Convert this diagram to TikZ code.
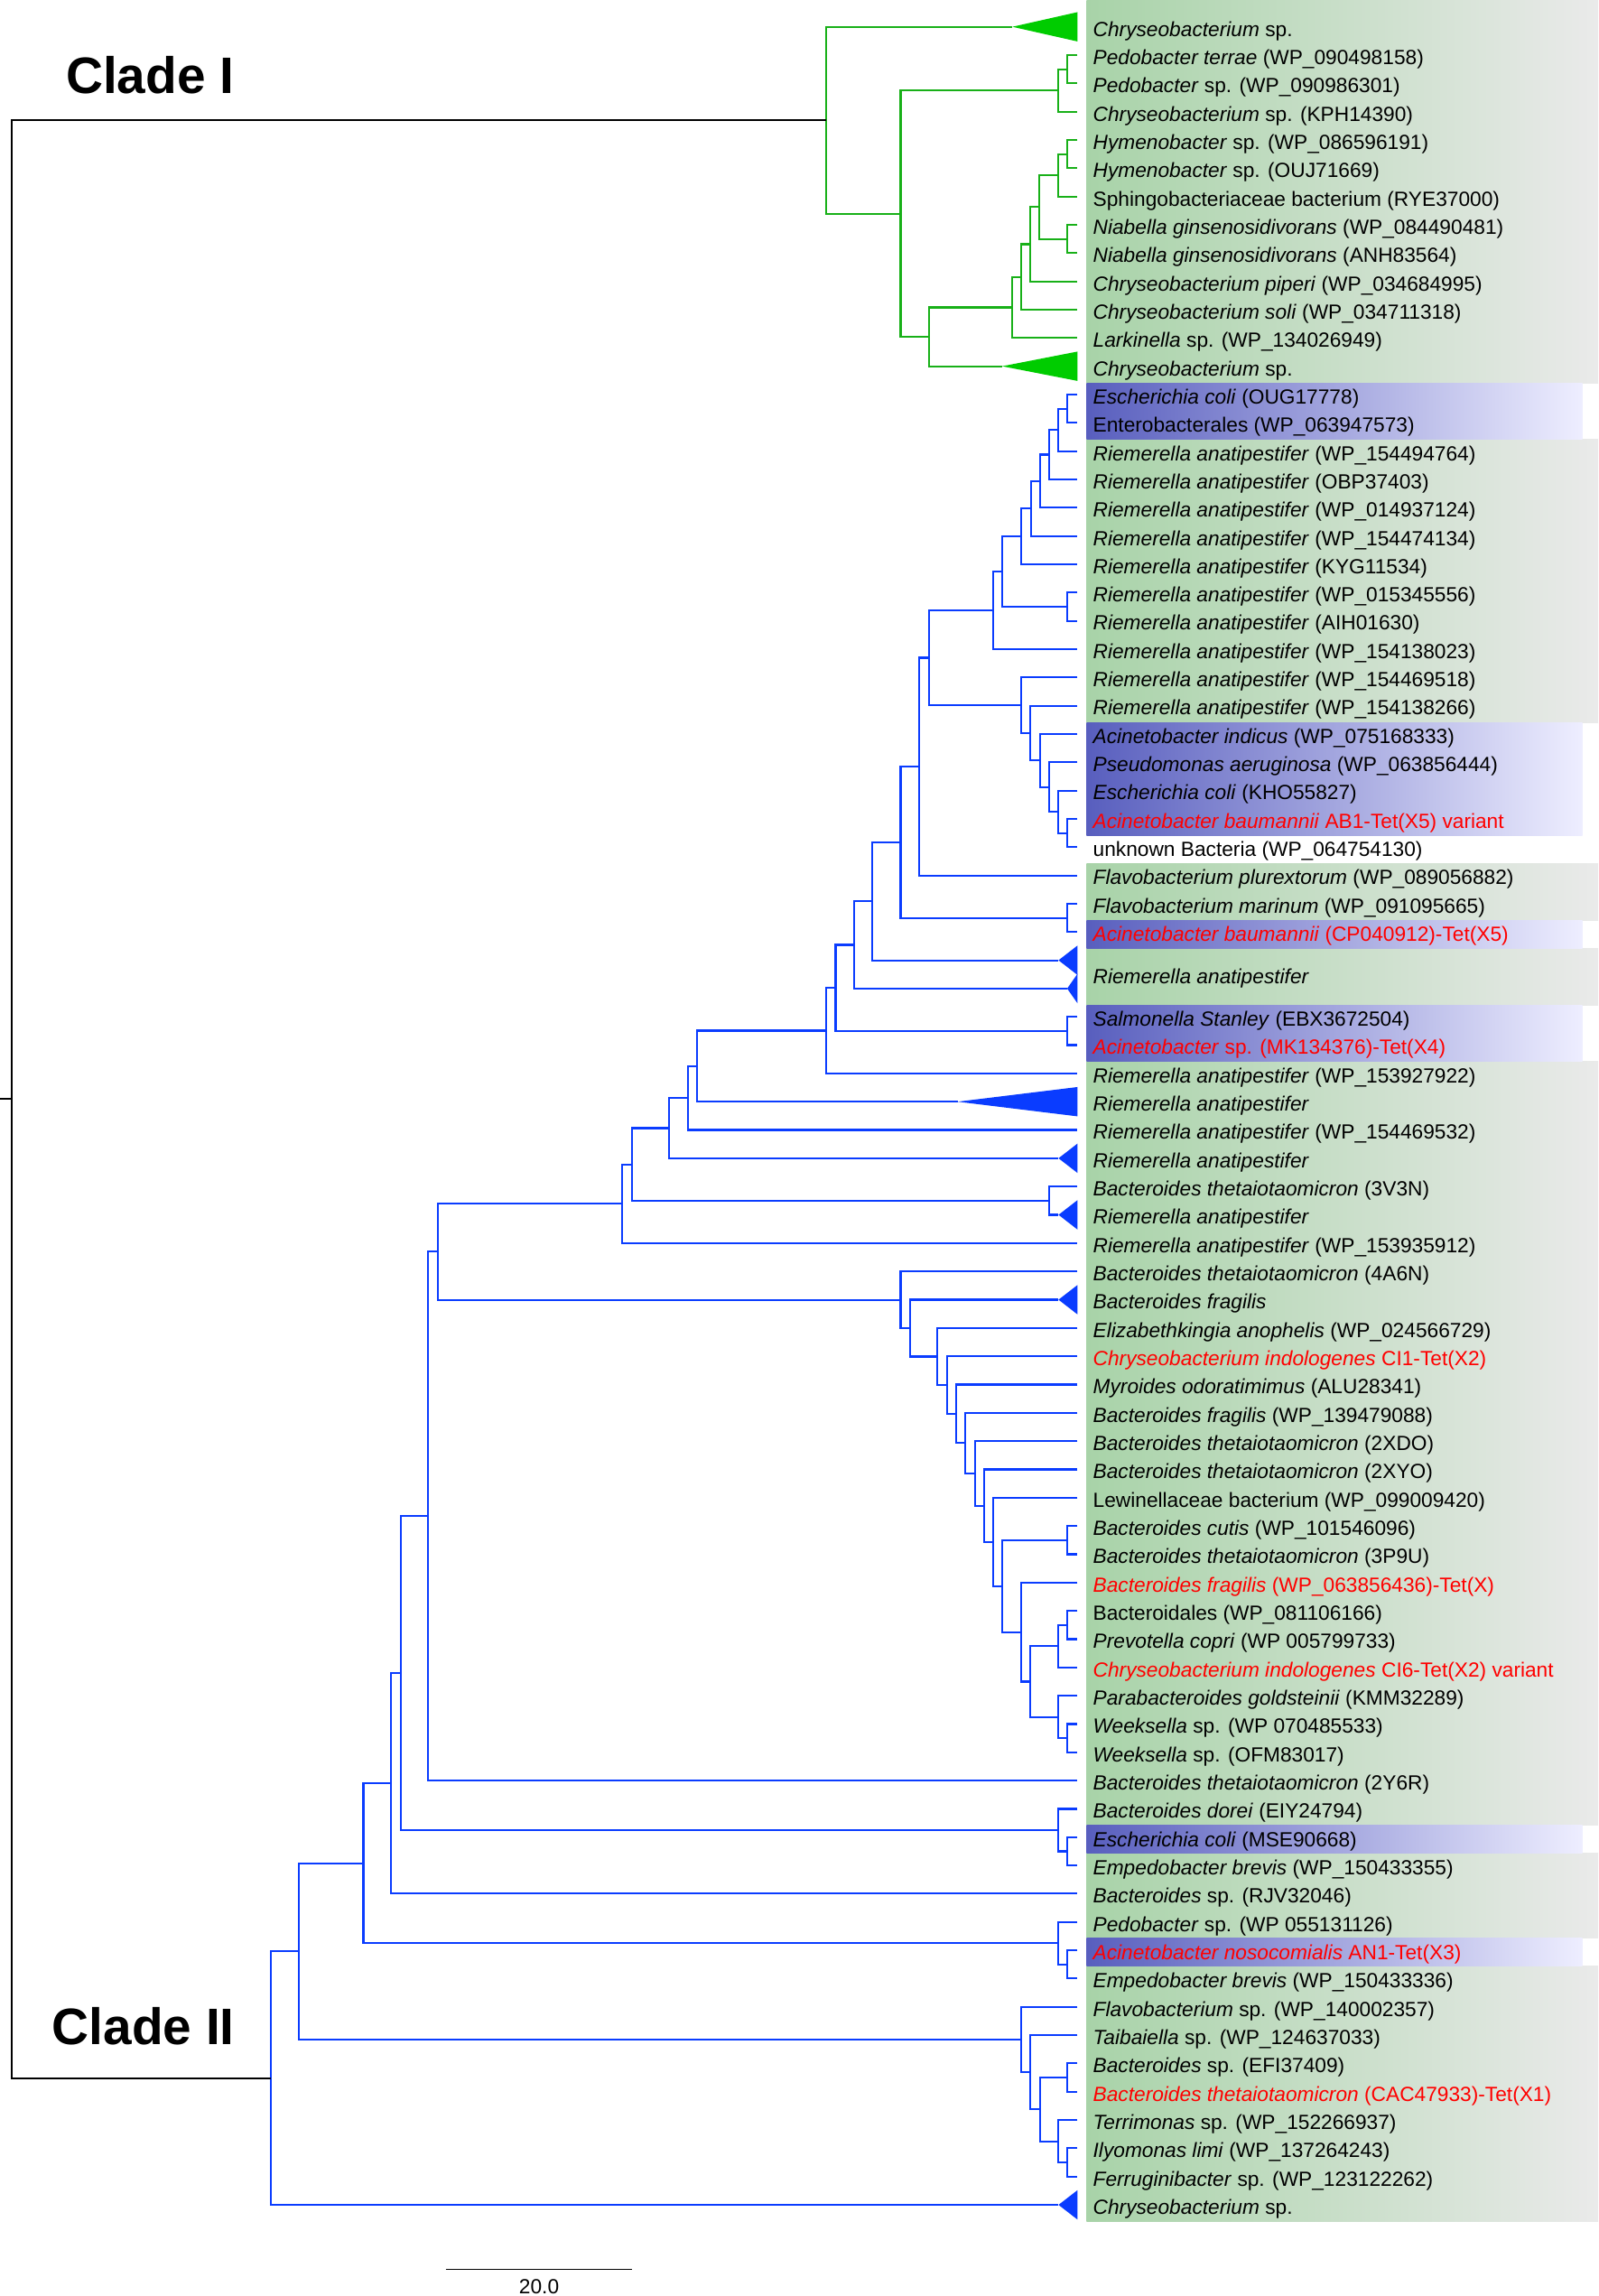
\documentclass[tikz,border=0pt]{standalone}
\usepackage{fontspec}
\setmainfont{Liberation Sans}
\usetikzlibrary{calc}

\definecolor{cladegreen}{RGB}{24,176,24}
\definecolor{trigreen}{RGB}{0,204,0}
\definecolor{cladeblue}{RGB}{10,60,255}
\definecolor{bandgreen}{RGB}{168,211,168}
\definecolor{bandgray}{RGB}{234,234,234}
\definecolor{bandblue}{RGB}{88,94,190}
\definecolor{bandpale}{RGB}{238,238,255}
\definecolor{tetred}{RGB}{255,0,0}

\tikzset{
  branch/.style={draw=black, line width=1.2pt},
  leaf/.style={anchor=base west, inner sep=0pt, font=\fontsize{14}{16}\selectfont},
  cladename/.style={anchor=base west, inner sep=0pt, font=\fontsize{35}{40}\selectfont\bfseries},
  greenband/.style={left color=bandgreen, right color=bandgray},
  blueband/.style={left color=bandblue, right color=bandpale},
}

% #2 = name, #3 = x of the split, #4 #5 = the two children
\newcommand{\clade}[5][branch]{%
  \path let \p1=($(#4)!0.5!(#5)$) in coordinate (#2) at (#3pt,\y1);
  \draw[#1] (#4) -| (#2) |- (#5);
}

\begin{document}
\begin{tikzpicture}[x=1pt, y=-1pt]
  \useasboundingbox (0,0) rectangle (1091,1567.4);

  % label bands
  \foreach \ya/\yb in {0/261.4, 300.0/493.1, 589.6/628.2, 647.5/686.2, 724.8/1245.9, 1265.2/1323.1, 1342.4/1516.8}
    \shade[greenband] (741.7,\ya) rectangle (1091,\yb);
  \foreach \ya/\yb in {261.4/300.0, 493.1/570.3, 628.2/647.5, 686.2/724.8, 1245.9/1265.2, 1323.1/1342.4}
    \shade[blueband] (741.7,\ya) rectangle (1080.3,\yb);

  % leaf tips
  \foreach \s in {1,...,78}
    \coordinate (r\s) at (735.5, {18.3+19.31*(\s-1)});

  % collapsed clades
  \foreach \s/\tx in {1/691.1, 13/684.1} {
    \coordinate (t\s) at (\tx, {18.3+19.31*(\s-1)});
    \fill[trigreen] (t\s) -- ($(r\s)+(0,-10)$) -- ($(r\s)+(0,10)$) -- cycle;
  }
  \foreach \s/\tx in {34/722.6, 35/728.5, 39/653.7, 41/722.6, 43/722.6, 46/722.6, 78/722.6} {
    \coordinate (t\s) at (\tx, {18.3+19.31*(\s-1)});
    \fill[cladeblue] (t\s) -- ($(r\s)+(0,-10)$) -- ($(r\s)+(0,10)$) -- cycle;
  }

  % Clade I
  \begin{scope}[branch/.style={draw=cladegreen, line width=1.3pt}]
    \clade{pa}{728.5}{r2}{r3}
    \clade{pb}{722.6}{pa}{r4}
    \clade{hy}{728.5}{r5}{r6}
    \clade{hb}{722.6}{hy}{r7}
    \clade{ni}{728.5}{r8}{r9}
    \clade{hc}{709.6}{hb}{ni}
    \clade{hd}{703.3}{hc}{r10}
    \clade{he}{697.0}{hd}{r11}
    \clade{hf}{691.1}{he}{r12}
    \clade{hg}{634.1}{hf}{t13}
    \clade{ia}{614.8}{pb}{hg}
    \clade{cI}{564.1}{t1}{ia}
  \end{scope}

  % Clade II
  \begin{scope}[branch/.style={draw=cladeblue, line width=1.3pt}]
    \clade{ea}{728.5}{r14}{r15}
    \clade{eb}{722.6}{ea}{r16}
    \clade{ec}{716.3}{eb}{r17}
    \clade{ed}{710.0}{ec}{r18}
    \clade{ee}{703.7}{ed}{r19}
    \clade{ef}{697.0}{ee}{r20}
    \clade{eg}{728.5}{r21}{r22}
    \clade{eh}{684.4}{ef}{eg}
    \clade{ei}{678.1}{eh}{r23}
    \clade{ak}{728.5}{r29}{r30}
    \clade{aj}{722.6}{r28}{ak}
    \clade{ai}{716.3}{r27}{aj}
    \clade{ah}{710.0}{r26}{ai}
    \clade{ag}{703.3}{r25}{ah}
    \clade{af}{697.0}{r24}{ag}
    \clade{ga}{634.1}{ei}{af}
    \clade{gb}{627.4}{ga}{r31}
    \clade{fm}{728.5}{r32}{r33}
    \clade{gc}{614.8}{gb}{fm}
    \clade{gd}{595.6}{gc}{t34}
    \clade{ge}{583.3}{gd}{t35}
    \clade{sa}{728.5}{r36}{r37}
    \clade{gf}{570.4}{ge}{sa}
    \clade{gg}{564.1}{gf}{r38}
    \clade{gh}{475.9}{gg}{t39}
    \clade{gi}{469.5}{gh}{r40}
    \clade{gj}{456.8}{gi}{t41}
    \clade{bt}{716.3}{r42}{t43}
    \clade{gk}{431.3}{gj}{bt}
    \clade{gl}{424.9}{gk}{r44}
    \clade{bc}{728.5}{r54}{r55}
    \clade{pc}{728.5}{r57}{r58}
    \clade{pd}{722.6}{pc}{r59}
    \clade{wk}{728.5}{r61}{r62}
    \clade{pe}{722.6}{r60}{wk}
    \clade{pf}{703.3}{pd}{pe}
    \clade{pg}{697.0}{r56}{pf}
    \clade{ph}{684.4}{bc}{pg}
    \clade{pi}{678.1}{r53}{ph}
    \clade{pj}{671.8}{r52}{pi}
    \clade{pk}{665.5}{r51}{pj}
    \clade{pl}{658.9}{r50}{pk}
    \clade{pm}{652.6}{r49}{pl}
    \clade{pn}{646.3}{r48}{pm}
    \clade{po}{640.0}{r47}{pn}
    \clade{pp}{621.1}{t46}{po}
    \clade{pq}{614.8}{r45}{pp}
    \clade{ka}{299.0}{gl}{pq}
    \clade{kb}{292.2}{ka}{r63}
    \clade{dm}{728.5}{r65}{r66}
    \clade{da}{722.6}{r64}{dm}
    \clade{kc}{273.6}{kb}{da}
    \clade{kd}{267.0}{kc}{r67}
    \clade{an}{728.5}{r69}{r70}
    \clade{ap}{722.6}{r68}{an}
    \clade{ke}{248.1}{kd}{ap}
    \clade{il}{728.5}{r76}{r77}
    \clade{te}{722.6}{r75}{il}
    \clade{bx}{728.5}{r73}{r74}
    \clade{tf}{710.0}{bx}{te}
    \clade{tg}{703.3}{r72}{tf}
    \clade{th}{697.0}{r71}{tg}
    \clade{kf}{203.8}{ke}{th}
    \clade{cII}{184.9}{kf}{t78}
  \end{scope}

  % root
  \clade{root}{7.8}{cI}{cII}
  \draw[branch] (root) -- (0,0 |- root);

  \node[cladename] (cladeone) at (44.8,63.7) {Clade I};
  \node[cladename] (cladetwo) at (35.4,1395.8) {Clade II};

  % leaf labels
  \foreach \s/\txt in {
    1/{\textit{Chryseobacterium} sp.},
    2/{\textit{Pedobacter terrae} (WP\_090498158)},
    3/{\textit{Pedobacter} sp. (WP\_090986301)},
    4/{\textit{Chryseobacterium} sp. (KPH14390)},
    5/{\textit{Hymenobacter} sp. (WP\_086596191)},
    6/{\textit{Hymenobacter} sp. (OUJ71669)},
    7/{Sphingobacteriaceae bacterium (RYE37000)},
    8/{\textit{Niabella ginsenosidivorans} (WP\_084490481)},
    9/{\textit{Niabella ginsenosidivorans} (ANH83564)},
    10/{\textit{Chryseobacterium piperi} (WP\_034684995)},
    11/{\textit{Chryseobacterium soli} (WP\_034711318)},
    12/{\textit{Larkinella} sp. (WP\_134026949)},
    13/{\textit{Chryseobacterium} sp.},
    14/{\textit{Escherichia coli} (OUG17778)},
    15/{Enterobacterales (WP\_063947573)},
    16/{\textit{Riemerella anatipestifer} (WP\_154494764)},
    17/{\textit{Riemerella anatipestifer} (OBP37403)},
    18/{\textit{Riemerella anatipestifer} (WP\_014937124)},
    19/{\textit{Riemerella anatipestifer} (WP\_154474134)},
    20/{\textit{Riemerella anatipestifer} (KYG11534)},
    21/{\textit{Riemerella anatipestifer} (WP\_015345556)},
    22/{\textit{Riemerella anatipestifer} (AIH01630)},
    23/{\textit{Riemerella anatipestifer} (WP\_154138023)},
    24/{\textit{Riemerella anatipestifer} (WP\_154469518)},
    25/{\textit{Riemerella anatipestifer} (WP\_154138266)},
    26/{\textit{Acinetobacter indicus} (WP\_075168333)},
    27/{\textit{Pseudomonas aeruginosa} (WP\_063856444)},
    28/{\textit{Escherichia coli} (KHO55827)},
    29/{\color{tetred}\textit{Acinetobacter baumannii} AB1-Tet(X5) variant},
    30/{unknown Bacteria (WP\_064754130)},
    31/{\textit{Flavobacterium plurextorum} (WP\_089056882)},
    32/{\textit{Flavobacterium marinum} (WP\_091095665)},
    33/{\color{tetred}\textit{Acinetobacter baumannii} (CP040912)-Tet(X5)},
    36/{\textit{Salmonella Stanley} (EBX3672504)},
    37/{\color{tetred}\textit{Acinetobacter} sp. (MK134376)-Tet(X4)},
    38/{\textit{Riemerella anatipestifer} (WP\_153927922)},
    39/{\textit{Riemerella anatipestifer}},
    40/{\textit{Riemerella anatipestifer} (WP\_154469532)},
    41/{\textit{Riemerella anatipestifer}},
    42/{\textit{Bacteroides thetaiotaomicron} (3V3N)},
    43/{\textit{Riemerella anatipestifer}},
    44/{\textit{Riemerella anatipestifer} (WP\_153935912)},
    45/{\textit{Bacteroides thetaiotaomicron} (4A6N)},
    46/{\textit{Bacteroides fragilis}},
    47/{\textit{Elizabethkingia anophelis} (WP\_024566729)},
    48/{\color{tetred}\textit{Chryseobacterium indologenes} CI1-Tet(X2)},
    49/{\textit{Myroides odoratimimus} (ALU28341)},
    50/{\textit{Bacteroides fragilis} (WP\_139479088)},
    51/{\textit{Bacteroides thetaiotaomicron} (2XDO)},
    52/{\textit{Bacteroides thetaiotaomicron} (2XYO)},
    53/{Lewinellaceae bacterium (WP\_099009420)},
    54/{\textit{Bacteroides cutis} (WP\_101546096)},
    55/{\textit{Bacteroides thetaiotaomicron} (3P9U)},
    56/{\color{tetred}\textit{Bacteroides fragilis} (WP\_063856436)-Tet(X)},
    57/{Bacteroidales (WP\_081106166)},
    58/{\textit{Prevotella copri} (WP 005799733)},
    59/{\color{tetred}\textit{Chryseobacterium indologenes} CI6-Tet(X2) variant},
    60/{\textit{Parabacteroides goldsteinii} (KMM32289)},
    61/{\textit{Weeksella} sp. (WP 070485533)},
    62/{\textit{Weeksella} sp. (OFM83017)},
    63/{\textit{Bacteroides thetaiotaomicron} (2Y6R)},
    64/{\textit{Bacteroides dorei} (EIY24794)},
    65/{\textit{Escherichia coli} (MSE90668)},
    66/{\textit{Empedobacter brevis} (WP\_150433355)},
    67/{\textit{Bacteroides} sp. (RJV32046)},
    68/{\textit{Pedobacter} sp. (WP 055131126)},
    69/{\color{tetred}\textit{Acinetobacter nosocomialis} AN1-Tet(X3)},
    70/{\textit{Empedobacter brevis} (WP\_150433336)},
    71/{\textit{Flavobacterium} sp. (WP\_140002357)},
    72/{\textit{Taibaiella} sp. (WP\_124637033)},
    73/{\textit{Bacteroides} sp. (EFI37409)},
    74/{\color{tetred}\textit{Bacteroides thetaiotaomicron} (CAC47933)-Tet(X1)},
    75/{\textit{Terrimonas} sp. (WP\_152266937)},
    76/{\textit{Ilyomonas limi} (WP\_137264243)},
    77/{\textit{Ferruginibacter} sp. (WP\_123122262)},
    78/{\textit{Chryseobacterium} sp.}}
    \node[leaf] (lab\s) at ($(r\s)+(10.5,6.4)$) {\txt};
  \node[leaf] (labriem) at ($(r34)!0.5!(r35)+(10.5,6.4)$) {\textit{Riemerella anatipestifer}};

  % scale bar
  \coordinate (sbl) at (304.3,1549.2);
  \coordinate (sbr) at (431.6,1549.2);
  \draw[branch] (sbl) -- (sbr);
  \node[leaf, anchor=base] (sblab) at (368,1566) {20.0};
\end{tikzpicture}
\end{document}
